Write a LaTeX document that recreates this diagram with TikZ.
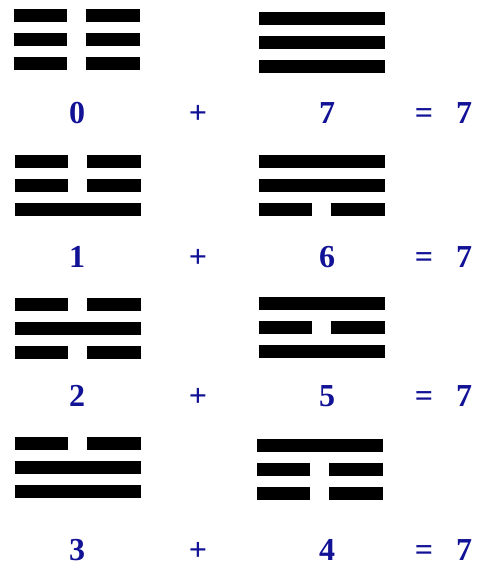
\documentclass[tikz,border=0pt]{standalone}
\usepackage{fontspec}
\setmainfont{Liberation Serif}
\definecolor{numblue}{RGB}{18,18,150}

% one trigram: left x, top y, lines top to bottom (1 solid, 0 broken)
\newcommand{\gua}[3]{%
  \foreach \l [count=\i from 0] in {#3} {
    \ifnum\l=1
      \fill (#1,{#2+24*\i}) rectangle ++(126,13);
    \else
      \fill (#1,{#2+24*\i}) rectangle ++(53,13);
      \fill ({#1+72},{#2+24*\i}) rectangle ++(54,13);
    \fi
  }%
}

\begin{document}
\begin{tikzpicture}[x=1pt, y=-1pt,
  every node/.style={inner sep=0pt, anchor=base, text=numblue,
    font=\fontsize{32}{38}\selectfont\bfseries}]
  \useasboundingbox (0,0) rectangle (479,564);

  % trigrams
  \gua{14}{9}{0,0,0}
  \gua{259}{12}{1,1,1}
  \gua{15}{155}{0,0,1}
  \gua{259}{155}{1,1,0}
  \gua{15}{298}{0,1,0}
  \gua{259}{297}{1,0,1}
  \gua{15}{437}{0,1,1}
  \gua{257}{439}{1,0,0}

  % sums
  \foreach \a/\b/\y [count=\r] in {0/7/123.5, 1/6/267.5, 2/5/406.5, 3/4/560} {
    \node (a\r) at (77,\y) {\a};
    \node (p\r) at (198,\y) {+};
    \node (b\r) at (327,\y) {\b};
    \node (e\r) at (424,\y) {=};
    \node (s\r) at (464,\y) {7};
  }
\end{tikzpicture}
\end{document}
